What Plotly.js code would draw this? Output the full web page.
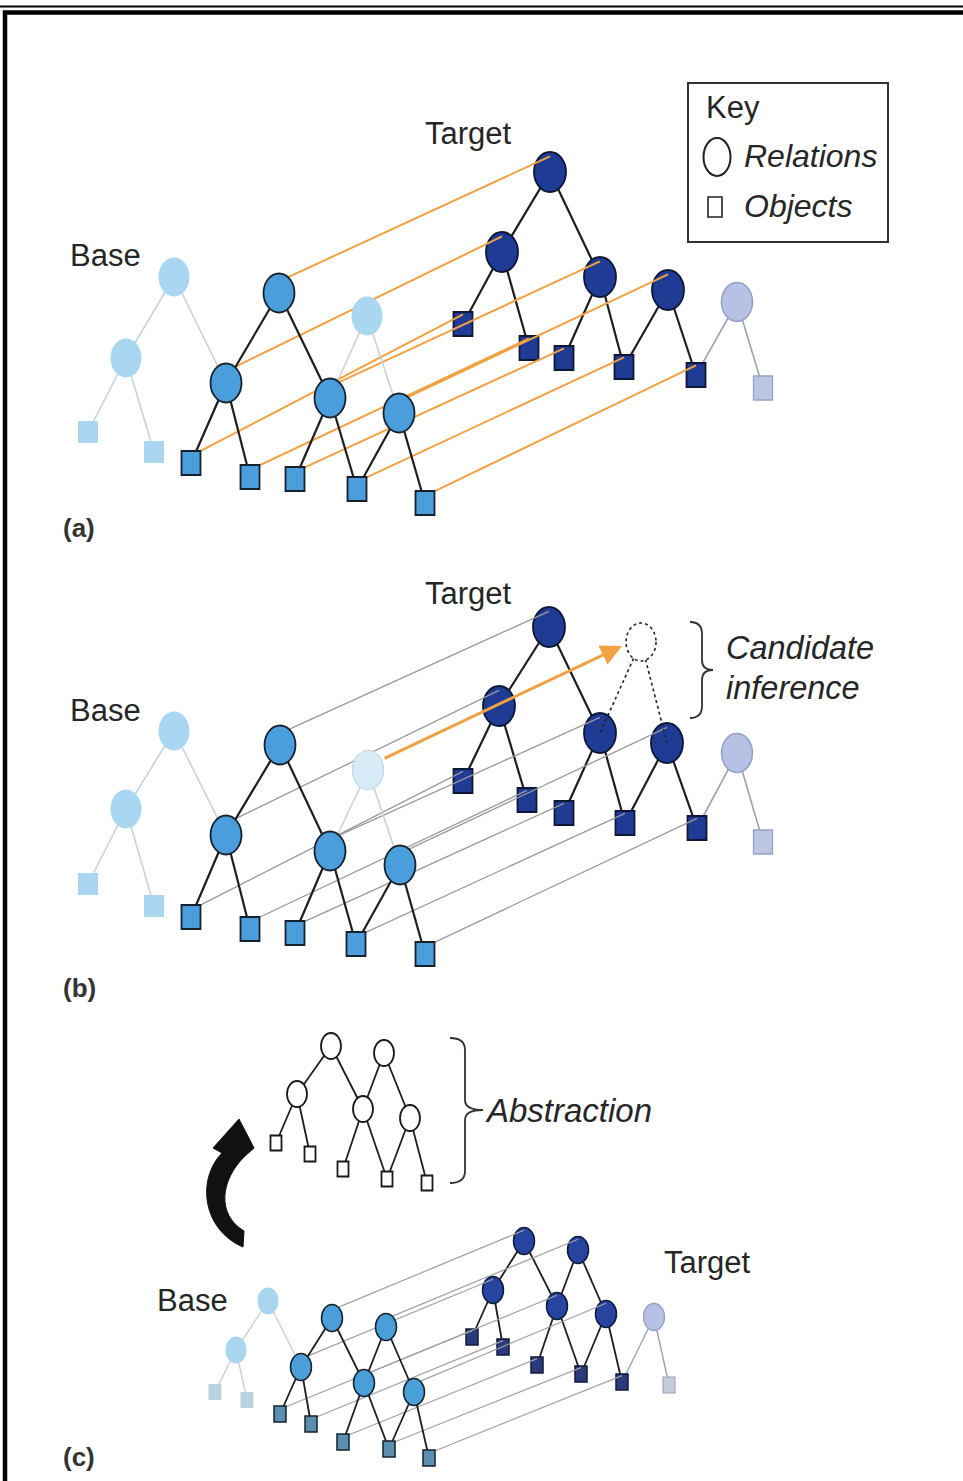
<!DOCTYPE html>
<html><head><meta charset="utf-8">
<script src="https://cdn.plot.ly/plotly-3.0.1.min.js"></script>
<style>html,body{margin:0;padding:0;background:#fff}</style>
</head><body><div id="chart" style="width:963px;height:1481px"></div>
<script>
// ================= DATA (pixel positions) =================
// Panel (a)  relations order: top, left, middle, right ; objects left->right
const aBaseRelX = [279, 226, 330, 399];
const aBaseRelY = [293, 383, 398, 413];
const aBaseObjX = [191, 250, 295, 357, 425];
const aBaseObjY = [463, 477, 479, 489, 503];
const aTgtRelX  = [550, 502, 600, 668];
const aTgtRelY  = [172, 252, 277, 290];
const aTgtObjX  = [463, 529, 564, 624, 696];
const aTgtObjY  = [324, 348, 358, 367, 375];
const aFadeRelX = [174, 126, 367];   // unmatched base relations
const aFadeRelY = [277, 358, 316];
const aFadeObjX = [88, 154];
const aFadeObjY = [432, 452];
const aTgtFadeX = [737, 763];        // unmatched target relation, object
const aTgtFadeY = [302, 388];

// Panel (b)
const bBaseRelX = [280, 226, 330, 400];
const bBaseRelY = [745, 835, 851, 865];
const bBaseObjX = [191, 250, 295, 356, 425];
const bBaseObjY = [917, 929, 933, 944, 954];
const bTgtRelX  = [549, 499, 600, 667];
const bTgtRelY  = [627, 706, 733, 743];
const bTgtObjX  = [463, 527, 564, 625, 697];
const bTgtObjY  = [781, 800, 813, 823, 828];
const bFadeRelX = [174, 126, 368];
const bFadeRelY = [731, 809, 770];
const bFadeObjX = [88, 154];
const bFadeObjY = [884, 906];
const bTgtFadeX = [737, 763];
const bTgtFadeY = [753, 842];
const bInferX = [641];
const bInferY = [642];

// Panel (c) relations order: top-left, top-right, left, middle, right
const cBaseRelX = [332, 386, 301, 364, 414];
const cBaseRelY = [1318, 1327, 1367, 1383, 1392];
const cBaseObjX = [280, 311, 343, 389, 429];
const cBaseObjY = [1414, 1424, 1442, 1449, 1458];
const cTgtRelX  = [524, 578, 493, 557, 606];
const cTgtRelY  = [1241, 1250, 1290, 1306, 1314];
const cTgtObjX  = [472, 503, 537, 581, 622];
const cTgtObjY  = [1337, 1347, 1365, 1374, 1382];
const cFadeRelX = [268, 236];
const cFadeRelY = [1301, 1350];
const cFadeObjX = [215, 247];
const cFadeObjY = [1392, 1400];
const cTgtFadeX = [654, 669];
const cTgtFadeY = [1317, 1385];
const absRelX = [331, 384, 297, 363, 410];
const absRelY = [1046, 1053, 1094, 1109, 1118];
const absObjX = [276, 310, 343, 387, 427];
const absObjY = [1143, 1154, 1169, 1179, 1183];

// structure (index pairs)
const abRelRel = [[0,1],[0,2]];
const abRelObj = [[1,0],[1,1],[2,2],[2,3],[3,3],[3,4]];
const cRelRel  = [[0,2],[0,3],[1,3],[1,4]];
const cRelObj  = [[2,0],[2,1],[3,2],[3,3],[4,3],[4,4]];

// text
const labels = [
  {t:'Target', x:468, y:133}, {t:'Base', x:105, y:255},
  {t:'Target', x:468, y:593}, {t:'Base', x:105, y:710},
  {t:'Target', x:707, y:1262}, {t:'Base', x:192, y:1300}
];
const panelTags = [{t:'(a)', y:528}, {t:'(b)', y:988}, {t:'(c)', y:1457}];

// ================= DRAWING =================
const shapes = [];
const NONE = 'rgba(0,0,0,0)';
function ell(x,y,w,h,fill,lc,lw,dash){
  shapes.push({type:'circle',xref:'x',yref:'y',x0:x-w/2,x1:x+w/2,y0:y-h/2,y1:y+h/2,
    fillcolor:fill,line:{color:lc,width:lw,dash:dash||'solid'},layer:'above'});
}
function box(x,y,w,h,fill,lc,lw){
  shapes.push({type:'rect',xref:'x',yref:'y',x0:x-w/2,x1:x+w/2,y0:y-h/2,y1:y+h/2,
    fillcolor:fill,line:{color:lc,width:lw},layer:'above'});
}
function seg(x0,y0,x1,y1,c,w,dash){
  shapes.push({type:'line',xref:'x',yref:'y',x0:x0,y0:y0,x1:x1,y1:y1,
    line:{color:c,width:w,dash:dash||'solid'},layer:'above'});
}
function path(d,fill,c,w){
  shapes.push({type:'path',xref:'x',yref:'y',path:d,fillcolor:fill,line:{color:c,width:w},layer:'above'});
}

function tree(relX,relY,objX,objY,rr,ro,rw,rh,ow,oh,fillR,fillO,lc,lw,ew){
  rr.forEach(p=>seg(relX[p[0]],relY[p[0]],relX[p[1]],relY[p[1]],'#1e1e1e',ew));
  ro.forEach(p=>seg(relX[p[0]],relY[p[0]],objX[p[1]],objY[p[1]],'#1e1e1e',ew));
  for(let i=0;i<relX.length;i++) ell(relX[i],relY[i],rw,rh,fillR,lc,lw);
  for(let i=0;i<objX.length;i++) box(objX[i],objY[i],ow,oh,fillO,lc,lw);
}
function links(bx,by,tx,ty,h,c,w){
  for(let i=0;i<bx.length;i++) seg(bx[i],by[i]-0.3*h,tx[i],ty[i]-0.4*h,c,w);
}

// frame
seg(0,6.5,963,6.5,'#000',2);
path('M 5 1481 L 5 12.5 L 963 12.5',NONE,'#000',4.5);

// ---------- panel (a) & (b) ----------
function panelAB(P, linkColor, linkW){
  const RW=31, RH=39, OW=19, OH=24;
  seg(P.tfx[0],P.tfy[0],P.tox[4],P.toy[4],'#9aa2b4',1.6);
  seg(P.tfx[0],P.tfy[0],P.tfx[1],P.tfy[1],'#9aa2b4',1.6);
  tree(P.trx,P.try_,P.tox,P.toy,abRelRel,abRelObj,RW+1,RH+1,OW,OH,'#1f3b94','#1f3b94','#0d1736',1.8,2.2);
  ell(P.tfx[0],P.tfy[0],RW,RH,'#b6c1e4','#93a1c9',1.5);
  box(P.tfx[1],P.tfy[1],OW,OH,'#bcc6e2','#97a3c4',1.3);
  links(P.brx,P.bry,P.trx,P.try_,RH,linkColor,linkW);
  links(P.box,P.boy,P.tox,P.toy,OH,linkColor,linkW);
  const fe='#c6d3da';
  seg(P.frx[0],P.fry[0],P.frx[1],P.fry[1],fe,1.6);
  seg(P.frx[0],P.fry[0],P.brx[1],P.bry[1],fe,1.6);
  seg(P.frx[1],P.fry[1],P.fox[0],P.foy[0],fe,1.6);
  seg(P.frx[1],P.fry[1],P.fox[1],P.foy[1],fe,1.6);
  seg(P.frx[2],P.fry[2],P.brx[2],P.bry[2],fe,1.6);
  seg(P.frx[2],P.fry[2],P.brx[3],P.bry[3],fe,1.6);
  ell(P.frx[0],P.fry[0],RW,RH,'#a9d7f1',NONE,0);
  ell(P.frx[1],P.fry[1],RW,RH,'#a9d7f1',NONE,0);
  if(P.paleExtra) ell(P.frx[2],P.fry[2],RW,RH,'#d8ecf8','#bcd7ea',1.2);
  else ell(P.frx[2],P.fry[2],RW,RH,'#a9d7f1',NONE,0);
  box(P.fox[0],P.foy[0],OW+1,OH-2,'#a9d7f1',NONE,0);
  box(P.fox[1],P.foy[1],OW+1,OH-2,'#a9d7f1',NONE,0);
  tree(P.brx,P.bry,P.box,P.boy,abRelRel,abRelObj,RW,RH,OW,OH,'#4a9edb','#4a9edb','#17212e',1.8,2.2);
}
panelAB({brx:aBaseRelX,bry:aBaseRelY,box:aBaseObjX,boy:aBaseObjY,trx:aTgtRelX,try_:aTgtRelY,
  tox:aTgtObjX,toy:aTgtObjY,frx:aFadeRelX,fry:aFadeRelY,fox:aFadeObjX,foy:aFadeObjY,
  tfx:aTgtFadeX,tfy:aTgtFadeY,paleExtra:false},'#f0a242',2);
panelAB({brx:bBaseRelX,bry:bBaseRelY,box:bBaseObjX,boy:bBaseObjY,trx:bTgtRelX,try_:bTgtRelY,
  tox:bTgtObjX,toy:bTgtObjY,frx:bFadeRelX,fry:bFadeRelY,fox:bFadeObjX,foy:bFadeObjY,
  tfx:bTgtFadeX,tfy:bTgtFadeY,paleExtra:true},'#9a9a9a',1.3);
// candidate inference (dotted)
seg(bInferX[0],bInferY[0],bTgtRelX[2],bTgtRelY[2],'#222',1.6,'dot');
seg(bInferX[0],bInferY[0],bTgtRelX[3],bTgtRelY[3],'#222',1.6,'dot');
ell(bInferX[0],bInferY[0],30,38,'#ffffff','#222',1.6,'dot');
// braces
path('M 690 622 Q 702 622 702 634 L 702 660 Q 702 670 713 670 Q 702 670 702 680 L 702 706 Q 702 718 690 718',NONE,'#333',1.8);
path('M 450 1038 Q 465 1038 465 1050 L 465 1100 Q 465 1110 483 1110 Q 465 1110 465 1120 L 465 1171 Q 465 1183 450 1183',NONE,'#333',1.8);

// key box
shapes.push({type:'rect',xref:'x',yref:'y',x0:688,x1:888,y0:83,y1:242,fillcolor:NONE,line:{color:'#333',width:2},layer:'above'});
ell(717,157,27,38,NONE,'#222',2);
box(715,207,14,20,NONE,'#222',1.6);

// ---------- panel (c) ----------
(function(){
  const RW=21, RH=27, OW=12, OH=16;
  seg(cTgtFadeX[0],cTgtFadeY[0],cTgtObjX[4],cTgtObjY[4],'#9aa2b4',1.4);
  seg(cTgtFadeX[0],cTgtFadeY[0],cTgtFadeX[1],cTgtFadeY[1],'#9aa2b4',1.4);
  tree(cTgtRelX,cTgtRelY,cTgtObjX,cTgtObjY,cRelRel,cRelObj,RW,RH,OW,OH,'#2644a0','#2b3a7a','#101a3a',1.5,1.8);
  ell(cTgtFadeX[0],cTgtFadeY[0],RW,RH,'#b6c1e4','#93a1c9',1.3);
  box(cTgtFadeX[1],cTgtFadeY[1],OW,OH,'#c5cbd8','#9aa3b8',1.1);
  links(cBaseRelX,cBaseRelY,cTgtRelX,cTgtRelY,RH,'#a2a2a2',1.2);
  links(cBaseObjX,cBaseObjY,cTgtObjX,cTgtObjY,OH,'#a2a2a2',1.2);
  const fe='#c6d3da';
  seg(cFadeRelX[0],cFadeRelY[0],cFadeRelX[1],cFadeRelY[1],fe,1.4);
  seg(cFadeRelX[0],cFadeRelY[0],cBaseRelX[2],cBaseRelY[2],fe,1.4);
  seg(cFadeRelX[1],cFadeRelY[1],cFadeObjX[0],cFadeObjY[0],'#d9c8cc',1.4);
  seg(cFadeRelX[1],cFadeRelY[1],cFadeObjX[1],cFadeObjY[1],'#d9c8cc',1.4);
  ell(cFadeRelX[0],cFadeRelY[0],RW,RH,'#a9d5ee',NONE,0);
  ell(cFadeRelX[1],cFadeRelY[1],RW,RH,'#a9d5ee',NONE,0);
  box(cFadeObjX[0],cFadeObjY[0],OW+1,OH,'#b8d2de',NONE,0);
  box(cFadeObjX[1],cFadeObjY[1],OW+1,OH,'#b8d2de',NONE,0);
  tree(cBaseRelX,cBaseRelY,cBaseObjX,cBaseObjY,cRelRel,cRelObj,RW,RH,OW,OH,'#4a9fd8','#5a8fb0','#16222e',1.5,1.8);
  tree(absRelX,absRelY,absObjX,absObjY,cRelRel,cRelObj,20,26,11,15,'#ffffff','#ffffff','#1a1a1a',1.8,1.8);
})();
// curved arrow (thick crescent with head pointing up)
path('M 243 1247 C 203 1230 196 1180 222 1153 L 213 1148 L 239 1119 L 254 1148 L 244 1157 C 221 1180 216 1214 244 1231 Z','#111','#111',1);

// ---------- text ----------
const FONT = 'Liberation Sans, Arial, sans-serif';
const ann = [];
labels.forEach(l=>ann.push({x:l.x,y:l.y,xref:'x',yref:'y',text:l.t,showarrow:false,
  font:{family:FONT,size:31,color:'#262626'},xanchor:'center',yanchor:'middle'}));
panelTags.forEach(l=>ann.push({x:61,y:l.y,xref:'x',yref:'y',text:'<b>'+l.t+'</b>',showarrow:false,
  font:{family:FONT,size:26,color:'#333'},xanchor:'left',yanchor:'middle'}));
function lt(t,x,y,it,sz){ann.push({x:x,y:y,xref:'x',yref:'y',text:it?'<i>'+t+'</i>':t,showarrow:false,
  font:{family:FONT,size:sz,color:'#262626'},xanchor:'left',yanchor:'middle'});}
lt('Key',704,107,false,31);
lt('Relations',742,156,true,32);
lt('Objects',742,206,true,32);
lt('Candidate',724,648,true,32.5);
lt('inference',724,688,true,32.5);
lt('Abstraction',483,1110,true,33);
// orange inference arrow
ann.push({x:622,y:646,ax:383,ay:759,xref:'x',yref:'y',axref:'x',ayref:'y',text:'',showarrow:true,
  arrowhead:2,arrowsize:1.4,arrowwidth:3,arrowcolor:'#f0a242'});

Plotly.newPlot('chart',[{x:[],y:[],type:'scatter',mode:'markers',showlegend:false}],{
  width:963,height:1481,margin:{l:0,r:0,t:0,b:0},
  paper_bgcolor:'#fff',plot_bgcolor:'#fff',showlegend:false,
  xaxis:{range:[0,963],visible:false,fixedrange:true},
  yaxis:{range:[1481,0],visible:false,fixedrange:true},
  shapes:shapes,annotations:ann
},{staticPlot:true});
</script></body></html>
